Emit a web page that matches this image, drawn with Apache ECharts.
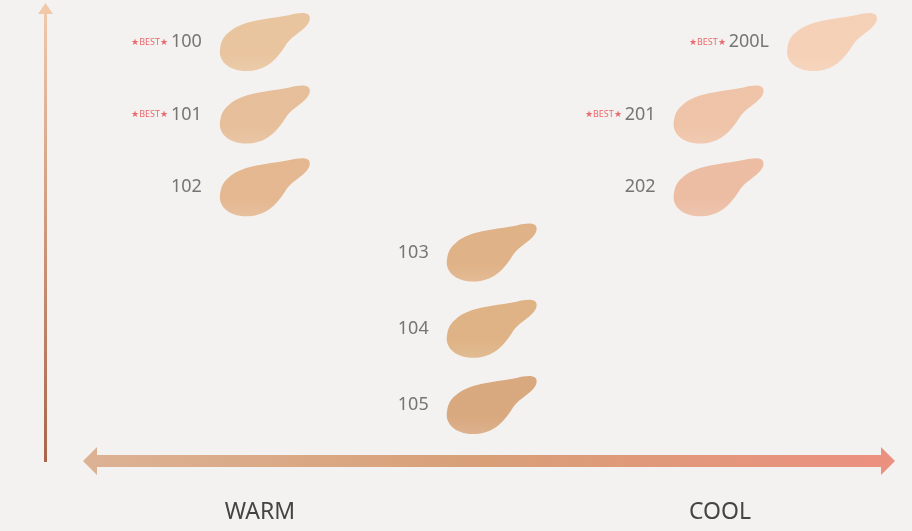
<!DOCTYPE html>
<html><head><meta charset="utf-8">
<script src="https://cdn.jsdelivr.net/npm/echarts@6/dist/echarts.min.js"></script>
<style>html,body{margin:0;padding:0;background:#f4f2f0}#c{width:912px;height:531px}</style>
</head><body><div id="c"></div>
<script>
const shades = ['100','101','102','103','104','105','200L','201','202'];
const warmth = [1,1,1,2,2,2,3.5,3,3];
const lightness = [6,5,4,3.1,2.05,1,6,5,4];
const best = [true,true,false,false,false,false,true,true,false];
const colors = ['#e6b98b','#e3b285','#e0a978','#dba26d','#d9a36a','#d2966364'.slice(0,7),'#f5c8a8','#eeb896','#eab090'];
const axisLabels = ['WARM','COOL'];

const blob = 'path://M10,20 C22,8 48,7 70,3 C82,0 92,0 89,9 C86,17 73,22 67,30 C60,41 50,55 30,56 C10,57 0,46 2,35 C3,28 5,24 10,20 Z';
const data = shades.map((s,i)=>({
  value:[warmth[i],lightness[i]], name:s,
  itemStyle:{color:{type:'linear',x:0,y:0,x2:0,y2:1,colorStops:[{offset:0,color:colors[i]},{offset:0.7,color:colors[i]},{offset:1,color:echarts.color.lift(colors[i],0.12)}]}},
  label:{formatter: best[i] ? '{b|★BEST★}{n|'+s+'}' : '{n|'+s+'}'}
}));
const chart = echarts.init(document.getElementById('c'));
chart.setOption({
  backgroundColor:'#f4f2f0',
  grid:{left:38,right:80,top:42,bottom:126},
  xAxis:{type:'value',min:0,max:3.5,show:false},
  yAxis:{type:'value',min:1,max:6,show:false},
  series:[{type:'scatter',symbol:blob,symbolSize:[90,58],data,
    label:{show:true,position:'left',distance:18,
      rich:{b:{color:'#e8474b',fontSize:9,fontFamily:'Noto Sans',padding:[0,3,0,0]},
            n:{color:'#555',fontSize:18,fontFamily:'Noto Sans'}}}}],
  graphic:[
    {type:'rect',shape:{x:44,y:12,width:3,height:450},style:{fill:{type:'linear',x:0,y:0,x2:0,y2:1,colorStops:[{offset:0,color:'#f0c8aa'},{offset:1,color:'#a8654a'}]}}},
    {type:'polygon',shape:{points:[[38,14],[45.5,3],[53,14]]},style:{fill:'#f0c8aa'}},
    {type:'polygon',shape:{points:[[83,461],[97,447],[97,455],[881,455],[881,447],[895,461],[881,475],[881,467],[97,467],[97,475]]},
      style:{fill:{type:'linear',x:0,y:0,x2:1,y2:0,colorStops:[{offset:0,color:'#dcb294'},{offset:0.5,color:'#d89f77'},{offset:1,color:'#ec9080'}]}}},
    {type:'text',x:260,y:512,style:{text:axisLabels[0],fontSize:23,fontFamily:'Noto Sans',fill:'#444',align:'center',verticalAlign:'middle'}},
    {type:'text',x:720,y:512,style:{text:axisLabels[1],fontSize:23,fontFamily:'Noto Sans',fill:'#444',align:'center',verticalAlign:'middle'}}
  ]
});
</script></body></html>
